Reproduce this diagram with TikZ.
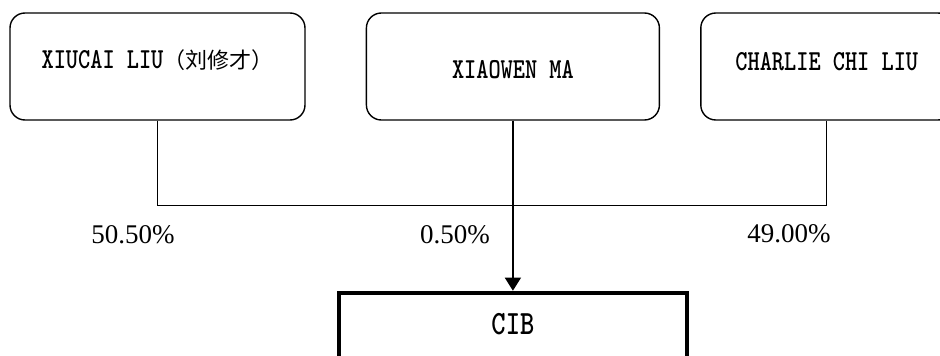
\documentclass[tikz,border=0pt]{standalone}
\usepackage{fontspec}
\setmainfont{Liberation Serif}
\newfontfamily\boxfont[FakeStretch=0.8]{lmmonolt10-bold.otf}
\newfontfamily\cjk{Noto Sans CJK SC}
\usetikzlibrary{positioning,arrows.meta}
\tikzset{
  owner/.style={draw, line width=1.4pt, rounded corners=15pt, minimum height=107pt,
    inner sep=0pt, text height=30pt, font=\boxfont\fontsize{29pt}{31pt}\selectfont},
  firm/.style={draw, line width=4.5pt, minimum width=348pt, minimum height=80pt,
    inner sep=0pt, text height=30pt, text depth=26pt, font=\boxfont\fontsize{34pt}{36pt}\selectfont},
  link/.style={line width=1.3pt},
  pct/.style={font=\fontsize{27pt}{29pt}\selectfont, inner sep=0pt}
}
\begin{document}
\begin{tikzpicture}[x=1pt,y=-1pt]
\useasboundingbox (0,0) rectangle (940,356);
\node[owner, minimum width=295pt, text depth=27pt](liu) at (157.5,66.5){XIUCAI LIU{\cjk\fontsize{22pt}{24pt}\selectfont （刘修才）}};
\node[owner, minimum width=293pt, text depth=7pt, right=60pt of liu](ma){XIAOWEN MA};
\node[owner, minimum width=252pt, text depth=23pt, right=40pt of ma](charlie){CHARLIE CHI LIU};
\node[firm, below=170pt of ma](cib){CIB};
\draw[link] (liu.south) -- ++(0,85) -| (charlie.south);
\draw[link, -{Triangle[width=16pt,length=13pt]}] (ma) -- (cib);
\node[pct](p1) at (133,235){50.50\%};
\node[pct](p2) at (455,235){0.50\%};
\node[pct](p3) at (789,234){49.00\%};
\end{tikzpicture}
\end{document}
